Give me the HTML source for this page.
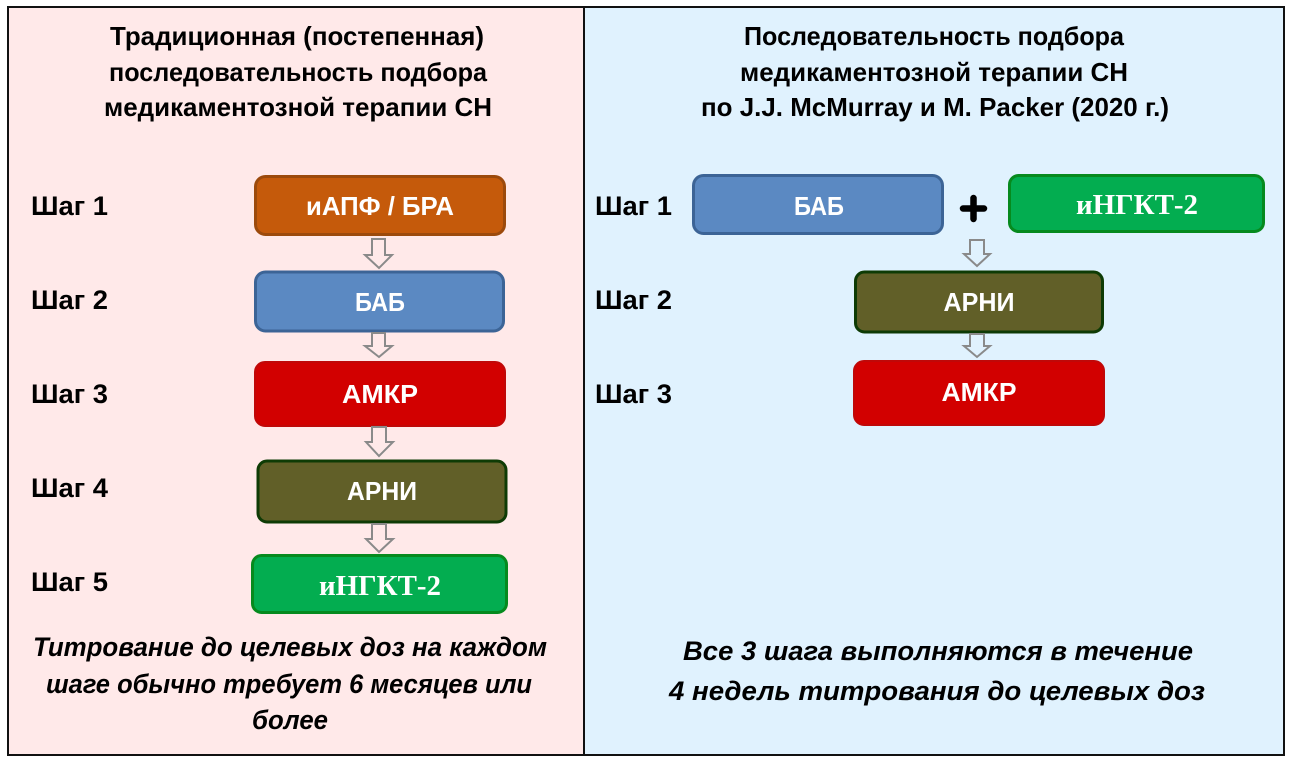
<!DOCTYPE html>
<html><head><meta charset="utf-8"><style>
html,body{margin:0;padding:0;background:#fff;width:1293px;height:764px;overflow:hidden}
svg{display:block}
text{font-family:"Liberation Sans",sans-serif;font-weight:bold;text-anchor:middle}
.h{font-size:26px;fill:#000}
.s{font-size:27px;fill:#000;text-anchor:start}
.b{font-size:26px;fill:#fff}
.t{font-family:"Liberation Serif",serif;font-size:28px;fill:#fff}
.i{font-size:27px;font-style:italic;fill:#000}
.a{fill:none;stroke:#8a8a8a;stroke-width:2}
</style></head><body>
<svg width="1293" height="764" viewBox="0 0 1293 764" xmlns="http://www.w3.org/2000/svg">
<rect width="1293" height="764" fill="#fff"/>
<rect x="8" y="7" width="576" height="748" fill="#ffe9e9"/>
<rect x="584" y="7" width="700" height="748" fill="#e0f2fe"/>
<rect x="8" y="7" width="1276" height="748" fill="none" stroke="#111" stroke-width="2"/>
<line x1="584" y1="7" x2="584" y2="755" stroke="#111" stroke-width="2"/>

<text class="h" x="297" y="45" textLength="374" lengthAdjust="spacingAndGlyphs">Традиционная (постепенная)</text>
<text class="h" x="298" y="81" textLength="378" lengthAdjust="spacingAndGlyphs">последовательность подбора</text>
<text class="h" x="298" y="116" textLength="388" lengthAdjust="spacingAndGlyphs">медикаментозной терапии СН</text>

<text class="h" x="934" y="45" textLength="380" lengthAdjust="spacingAndGlyphs">Последовательность подбора</text>
<text class="h" x="934" y="81" textLength="388" lengthAdjust="spacingAndGlyphs">медикаментозной терапии СН</text>
<text class="h" x="935" y="116" textLength="468" lengthAdjust="spacingAndGlyphs">по J.J. McMurray и M. Packer (2020 г.)</text>

<text class="s" x="31" y="215" textLength="77" lengthAdjust="spacingAndGlyphs">Шаг 1</text>
<text class="s" x="31" y="309" textLength="77" lengthAdjust="spacingAndGlyphs">Шаг 2</text>
<text class="s" x="31" y="403" textLength="77" lengthAdjust="spacingAndGlyphs">Шаг 3</text>
<text class="s" x="31" y="497" textLength="77" lengthAdjust="spacingAndGlyphs">Шаг 4</text>
<text class="s" x="31" y="591" textLength="77" lengthAdjust="spacingAndGlyphs">Шаг 5</text>
<text class="s" x="595" y="215" textLength="77" lengthAdjust="spacingAndGlyphs">Шаг 1</text>
<text class="s" x="595" y="309" textLength="77" lengthAdjust="spacingAndGlyphs">Шаг 2</text>
<text class="s" x="595" y="403" textLength="77" lengthAdjust="spacingAndGlyphs">Шаг 3</text>

<rect x="255.5" y="176.5" width="249" height="58" rx="10" fill="#c55a0b" stroke="#9c4a0c" stroke-width="3"/>
<text class="b" x="380" y="215" textLength="148" lengthAdjust="spacingAndGlyphs">иАПФ / БРА</text>
<path class="a" d="M372 239H385V255H392L379 268L365 255H372Z"/>

<rect x="255.5" y="272" width="248" height="59" rx="10" fill="#5b89c2" stroke="#3c6496" stroke-width="3"/>
<text class="b" x="380" y="311" textLength="50" lengthAdjust="spacingAndGlyphs">БАБ</text>
<path class="a" d="M372 333H385V346H392L379 357L365 346H372Z"/>

<rect x="255" y="362" width="250" height="64" rx="10" fill="#d20000" stroke="#c00808" stroke-width="2"/>
<text class="b" x="380" y="403" textLength="76" lengthAdjust="spacingAndGlyphs">АМКР</text>
<path class="a" d="M372 427H386V442H393L379 456L366 442H372Z"/>

<rect x="258" y="461" width="248" height="61" rx="9" fill="#615f28" stroke="#0e3b05" stroke-width="3"/>
<text class="b" x="382" y="500" textLength="70" lengthAdjust="spacingAndGlyphs">АРНИ</text>
<path class="a" d="M372 524H386V539H393L379 552L366 539H372Z"/>

<rect x="252.5" y="555.5" width="254" height="57" rx="9" fill="#03ad50" stroke="#068a1e" stroke-width="3"/>
<text class="t" x="380" y="595" textLength="122" lengthAdjust="spacingAndGlyphs">иНГКТ-2</text>

<text class="i" x="290" y="656" textLength="514" lengthAdjust="spacingAndGlyphs">Титрование до целевых доз на каждом</text>
<text class="i" x="289" y="693" textLength="486" lengthAdjust="spacingAndGlyphs">шаге обычно требует 6 месяцев или</text>
<text class="i" x="290" y="729" textLength="76" lengthAdjust="spacingAndGlyphs">более</text>

<rect x="693.5" y="175.5" width="249" height="58" rx="10" fill="#5b89c2" stroke="#3c6496" stroke-width="3"/>
<text class="b" x="819" y="215" textLength="50" lengthAdjust="spacingAndGlyphs">БАБ</text>
<path d="M973.5 198V219M963 208.5H984" fill="none" stroke="#000" stroke-width="6.5" stroke-linecap="round"/>
<rect x="1009.5" y="175.5" width="254" height="56" rx="9" fill="#03ad50" stroke="#068a1e" stroke-width="3"/>
<text class="t" x="1137" y="214" textLength="122" lengthAdjust="spacingAndGlyphs">иНГКТ-2</text>
<path class="a" d="M970 240H984V254H990L977 266L964 254H970Z"/>

<rect x="855.5" y="272" width="247" height="60" rx="9" fill="#615f28" stroke="#0e3b05" stroke-width="3"/>
<text class="b" x="979" y="311" textLength="71" lengthAdjust="spacingAndGlyphs">АРНИ</text>
<path class="a" d="M970 334H984V346H990L977 357L964 346H970Z"/>

<rect x="854" y="361" width="250" height="64" rx="10" fill="#d20000" stroke="#c00808" stroke-width="2"/>
<text class="b" x="979" y="401" textLength="75" lengthAdjust="spacingAndGlyphs">АМКР</text>

<text class="i" x="938" y="660" textLength="510" lengthAdjust="spacingAndGlyphs">Все 3 шага выполняются в течение</text>
<text class="i" x="937" y="700" textLength="536" lengthAdjust="spacingAndGlyphs">4 недель титрования до целевых доз</text>
</svg>
</body></html>
